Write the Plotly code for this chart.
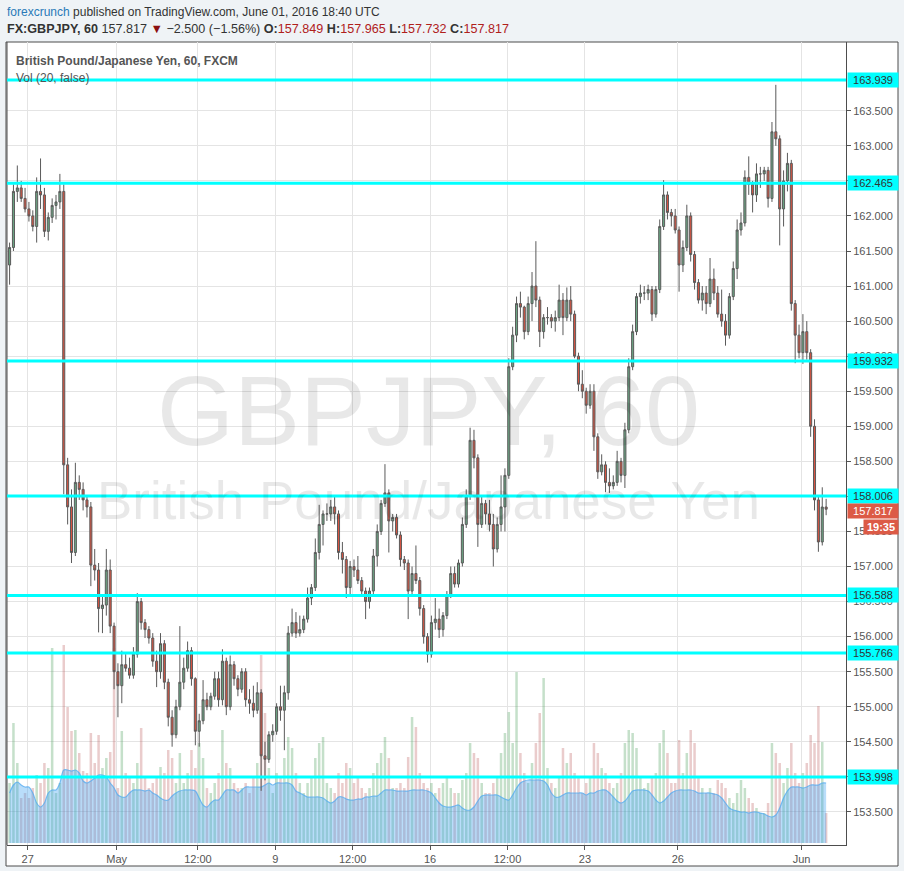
import plotly.graph_objects as go
import pandas as pd

# ---------------- data (3-hour candles) ----------------
open_ = [
    161.30, 161.55, 162.35, 162.40,
    162.25, 162.10, 162.00, 161.85, 162.35, 162.30, 161.78, 161.98,
    162.15, 162.20, 162.35, 158.45, 157.85, 157.20, 158.20, 158.10,
    157.95, 157.85, 157.02, 156.95, 156.40, 156.45, 156.95, 156.15,
    155.50, 155.30, 155.60, 155.55, 155.45, 155.75, 156.50, 156.20,
    156.10, 155.98, 155.65, 155.50, 155.90, 155.35, 154.85, 154.60,
    155.00, 155.35, 155.55, 155.80, 155.40, 154.65, 154.80, 155.10,
    155.00, 155.15, 155.40, 155.10, 155.65, 155.00, 155.60, 155.40,
    155.25, 155.50, 155.10, 155.05, 154.95, 155.20, 154.30, 154.25,
    154.60, 154.65, 155.00, 154.95, 155.20, 156.05, 156.20, 156.05,
    156.10, 156.25, 156.55, 156.70, 157.20, 157.60, 157.75, 157.75,
    157.85, 157.75, 157.20, 157.10, 156.70, 157.00, 156.95, 156.80,
    156.65, 156.50, 156.65, 157.15, 157.50, 157.90, 158.05, 157.65,
    157.70, 157.45, 157.10, 157.05, 156.65, 156.90, 156.80, 156.40,
    156.00, 155.75, 156.20, 156.25, 156.10, 156.30, 156.60, 156.90,
    156.75, 157.05, 157.60, 158.00, 158.80, 158.55, 157.60, 157.90,
    157.75, 157.60, 157.25, 157.60, 157.85, 158.30, 159.85, 160.30,
    160.75, 160.70, 160.35, 160.75, 161.00, 160.80, 160.35, 160.55,
    160.55, 160.50, 160.55, 160.80, 160.55, 160.80, 160.60, 160.00,
    159.60, 159.50, 159.30, 159.50, 158.85, 158.35, 158.45, 158.20,
    158.15, 158.20, 158.50, 158.30, 158.95, 159.85, 160.35, 160.85,
    160.90, 160.90, 160.95, 160.60, 160.95, 161.85, 162.30, 162.05,
    162.00, 161.80, 161.30, 161.55, 162.00, 161.45, 161.05, 160.80,
    160.90, 160.75, 161.10, 160.90, 160.60, 160.50, 160.30, 160.85,
    161.25, 161.80, 161.90, 162.55, 162.45, 162.30, 162.60, 162.60,
    162.65, 162.25, 163.20, 163.10, 162.10, 162.50, 162.75, 160.75,
    160.30, 160.05, 160.35, 160.05, 159.00, 157.95, 157.35, 157.849,
]
high = [
    161.62, 162.45, 162.72, 162.50,
    162.40, 162.20, 162.08, 162.55, 162.82, 162.40, 162.05, 162.25,
    162.30, 162.60, 162.45, 158.55, 158.10, 158.48, 158.30, 158.20,
    158.00, 157.92, 157.25, 157.05, 156.60, 157.25, 157.10, 156.20,
    155.62, 155.80, 155.75, 155.70, 155.85, 156.62, 156.55, 156.25,
    156.15, 156.05, 155.80, 156.05, 155.95, 155.40, 154.95, 155.10,
    156.15, 155.70, 155.93, 155.85, 155.42, 154.90, 155.38, 155.20,
    155.20, 155.50, 155.50, 155.82, 155.70, 155.73, 155.65, 155.45,
    155.55, 155.55, 155.25, 155.30, 155.35, 155.25, 154.50, 154.65,
    154.75, 155.05, 155.30, 155.30, 156.15, 156.40, 156.35, 156.30,
    156.30, 156.70, 156.75, 157.40, 157.88, 157.80, 157.90, 157.95,
    158.00, 157.80, 157.35, 157.15, 157.08, 157.10, 157.15, 156.85,
    156.70, 156.70, 157.25, 157.60, 157.95, 158.46, 158.10, 157.75,
    157.75, 157.50, 157.15, 157.10, 157.00, 157.30, 156.85, 156.45,
    156.05, 156.30, 156.55, 156.40, 156.35, 156.65, 157.00, 157.00,
    157.10, 157.70, 158.10, 158.98, 158.95, 158.60, 158.00, 157.95,
    157.95, 157.75, 157.70, 158.30, 158.40, 159.97, 160.42, 160.85,
    160.92, 160.72, 160.85, 161.20, 161.64, 160.85, 160.60, 160.70,
    160.60, 160.65, 161.02, 160.90, 160.98, 161.00, 160.65, 160.05,
    159.80, 159.55, 159.60, 159.60, 158.90, 158.60, 158.50, 158.40,
    158.30, 158.65, 158.55, 159.05, 159.97, 160.45, 160.90, 161.02,
    161.00, 161.02, 161.00, 161.00, 161.95, 162.51, 162.35, 162.10,
    162.10, 161.85, 161.65, 162.16, 162.05, 161.50, 161.10, 161.00,
    161.00, 161.40, 161.25, 161.00, 160.95, 160.60, 160.90, 161.35,
    161.95, 162.05, 162.65, 162.85, 162.50, 162.75, 162.70, 162.70,
    162.70, 163.34, 163.87, 163.15, 162.65, 162.90, 162.80, 160.80,
    160.45, 160.60, 160.50, 160.10, 159.10, 158.00, 158.13, 157.965,
]
low = [
    161.02, 161.50, 162.20, 162.20,
    162.05, 161.92, 161.78, 161.62, 162.10, 161.70, 161.65, 161.90,
    161.95, 162.10, 158.03, 157.60, 157.05, 157.15, 157.95, 157.80,
    157.70, 156.72, 156.80, 156.06, 156.05, 156.30, 156.05, 155.25,
    154.85, 155.05, 155.50, 155.40, 155.40, 155.70, 156.10, 155.98,
    155.90, 155.57, 155.28, 155.40, 155.25, 154.72, 154.43, 154.55,
    154.95, 155.25, 155.50, 155.30, 154.45, 154.43, 154.75, 154.95,
    154.95, 155.10, 155.00, 155.02, 154.88, 154.95, 155.30, 155.15,
    155.20, 155.00, 154.90, 154.85, 154.90, 153.80, 153.95, 154.20,
    154.50, 154.60, 154.80, 154.38, 155.10, 156.00, 155.98, 156.00,
    156.05, 156.20, 156.45, 156.65, 157.10, 157.30, 157.65, 157.65,
    157.60, 157.10, 156.90, 156.55, 156.60, 156.85, 156.75, 156.58,
    156.25, 156.40, 156.60, 157.00, 157.45, 157.85, 157.20, 157.50,
    157.40, 157.00, 156.95, 156.25, 156.60, 156.75, 156.30, 155.90,
    155.63, 155.70, 156.10, 155.98, 156.00, 156.25, 156.55, 156.70,
    156.70, 157.00, 157.55, 157.95, 158.40, 157.28, 157.55, 157.60,
    157.50, 157.00, 157.20, 157.50, 157.50, 158.25, 159.80, 160.20,
    160.55, 160.24, 160.30, 160.50, 160.70, 160.13, 160.25, 160.45,
    160.40, 160.35, 160.50, 160.30, 160.50, 160.50, 159.97, 159.50,
    159.40, 159.18, 159.25, 158.65, 158.25, 158.30, 158.06, 158.05,
    158.10, 158.15, 158.20, 158.12, 158.90, 159.80, 160.30, 160.75,
    160.80, 160.80, 160.50, 160.55, 160.90, 161.80, 161.95, 161.85,
    161.75, 160.92, 161.20, 161.50, 161.35, 160.95, 160.75, 160.65,
    160.60, 160.70, 160.80, 160.55, 160.42, 160.15, 160.25, 160.80,
    161.10, 161.72, 161.85, 162.30, 162.05, 162.20, 162.40, 162.50,
    162.12, 162.20, 163.00, 161.58, 161.85, 162.35, 160.65, 159.90,
    159.97, 159.89, 159.95, 158.85, 157.80, 157.21, 157.30, 157.732,
]
close = [
    161.55, 162.35, 162.40, 162.25,
    162.10, 162.00, 161.85, 162.35, 162.30, 161.78, 161.98, 162.15,
    162.20, 162.35, 158.45, 157.85, 157.20, 158.20, 158.10, 157.95,
    157.85, 157.02, 156.95, 156.40, 156.45, 156.95, 156.15, 155.50,
    155.30, 155.60, 155.55, 155.45, 155.75, 156.50, 156.20, 156.10,
    155.98, 155.65, 155.50, 155.90, 155.35, 154.85, 154.60, 155.00,
    155.35, 155.55, 155.80, 155.40, 154.65, 154.80, 155.10, 155.00,
    155.15, 155.40, 155.10, 155.65, 155.00, 155.60, 155.40, 155.25,
    155.50, 155.10, 155.05, 154.95, 155.20, 154.30, 154.25, 154.60,
    154.65, 155.00, 154.95, 155.20, 156.05, 156.20, 156.05, 156.10,
    156.25, 156.55, 156.70, 157.20, 157.60, 157.75, 157.75, 157.85,
    157.75, 157.20, 157.10, 156.70, 157.00, 156.95, 156.80, 156.65,
    156.50, 156.65, 157.15, 157.50, 157.90, 158.05, 157.65, 157.70,
    157.45, 157.10, 157.05, 156.65, 156.90, 156.80, 156.40, 156.00,
    155.75, 156.20, 156.25, 156.10, 156.30, 156.60, 156.90, 156.75,
    157.05, 157.60, 158.00, 158.80, 158.55, 157.60, 157.90, 157.75,
    157.60, 157.25, 157.60, 157.85, 158.30, 159.85, 160.30, 160.75,
    160.70, 160.35, 160.75, 161.00, 160.80, 160.35, 160.55, 160.55,
    160.50, 160.55, 160.80, 160.55, 160.80, 160.60, 160.00, 159.60,
    159.50, 159.30, 159.50, 158.85, 158.35, 158.45, 158.20, 158.15,
    158.20, 158.50, 158.30, 158.95, 159.85, 160.35, 160.85, 160.90,
    160.90, 160.95, 160.60, 160.95, 161.85, 162.30, 162.05, 162.00,
    161.80, 161.30, 161.55, 162.00, 161.45, 161.05, 160.80, 160.90,
    160.75, 161.10, 160.90, 160.60, 160.50, 160.30, 160.85, 161.25,
    161.80, 161.90, 162.55, 162.45, 162.30, 162.60, 162.60, 162.65,
    162.25, 163.20, 163.10, 162.10, 162.50, 162.75, 160.75, 160.30,
    160.05, 160.35, 160.05, 159.00, 157.95, 157.35, 157.849, 157.817,
]
volume = [
    60, 120, 80, 45,
    50, 45, 55, 68, 60, 80, 75, 195,
    50, 60, 198, 136, 112, 113, 90, 72,
    70, 110, 80, 108, 75, 85, 91, 195,
    55, 112, 70, 65, 60, 80, 115, 65,
    55, 60, 65, 76, 70, 93, 85, 60,
    90, 60, 70, 93, 75, 100, 85, 55,
    50, 60, 70, 113, 80, 75, 60, 55,
    55, 60, 50, 65, 80, 188, 130, 75,
    50, 70, 65, 85, 106, 95, 70, 60,
    50, 60, 65, 85, 100, 106, 60, 55,
    50, 70, 60, 80, 75, 60, 65, 55,
    50, 55, 70, 80, 90, 106, 85, 55,
    55, 60, 55, 86, 126, 116, 70, 60,
    55, 60, 50, 55, 60, 65, 55, 50,
    50, 63, 70, 100, 90, 85, 60, 50,
    50, 60, 65, 90, 110, 131, 100, 171,
    90, 70, 60, 80, 100, 130, 165, 75,
    60, 55, 65, 95, 80, 90, 70, 65,
    50, 60, 65, 100, 90, 75, 70, 60,
    55, 60, 70, 100, 113, 110, 95, 65,
    55, 60, 65, 70, 100, 113, 90, 60,
    60, 103, 70, 90, 113, 100, 65, 55,
    50, 55, 50, 63, 60, 55, 45, 40,
    50, 63, 55, 45, 40, 35, 30, 30,
    40, 100, 90, 80, 60, 75, 100, 70,
    60, 70, 80, 108, 100, 137, 101, 30,
]
vol_ma = [
    50, 58, 61, 58,
    56, 56, 50, 40, 36, 40, 50, 53,
    53, 60, 73, 73, 72, 73, 70, 62,
    60, 62, 65, 68, 68, 66, 60, 55,
    48, 46, 46, 50, 53, 53, 53, 52,
    53, 50, 48, 45, 43, 43, 47, 50,
    52, 53, 53, 53, 52, 45, 38, 36,
    40, 43, 43, 48, 53, 53, 53, 50,
    53, 56, 56, 56, 56, 56, 58, 60,
    58, 60, 60, 60, 60, 58, 52, 50,
    48, 46, 46, 46, 46, 45, 42, 40,
    42, 46, 46, 44, 43, 43, 44, 44,
    46, 46, 47, 47, 50, 53, 53, 53,
    52, 52, 52, 52, 53, 53, 53, 53,
    52, 50, 45, 40, 37, 36, 36, 37,
    38, 35, 33, 33, 36, 42, 47, 48,
    48, 48, 48, 46, 44, 43, 48, 55,
    60, 62, 63, 63, 63, 63, 62, 58,
    50, 46, 46, 48, 50, 50, 50, 50,
    50, 48, 50, 50, 52, 53, 53, 50,
    46, 42, 40, 42, 47, 52, 53, 53,
    53, 52, 48, 43, 40, 42, 46, 50,
    52, 53, 53, 53, 53, 52, 50, 50,
    50, 50, 49, 48, 45, 40, 35, 33,
    32, 31, 31, 30, 31, 31, 30, 29,
    27, 26, 28, 35, 45, 52, 56, 56,
    56, 55, 56, 58, 58, 58, 60, 60,
]

levels = [163.939, 162.465, 159.932, 158.006, 156.588, 155.766, 153.998]
tick_dates = ["2016-04-27 00:00", "2016-05-01 21:00", "2016-05-04 12:00", "2016-05-09 00:00",
              "2016-05-11 12:00", "2016-05-16 00:00", "2016-05-18 12:00", "2016-05-23 00:00",
              "2016-05-26 00:00", "2016-06-01 00:00"]
tick_labels = ["27", "May", "12:00", "9", "12:00", "16", "12:00", "23", "26", "Jun"]
price_ticks = [153.5, 154.0, 154.5, 155.0, 155.5, 156.0, 156.5, 157.0, 157.5, 158.0, 158.5,
               159.0, 159.5, 160.0, 160.5, 161.0, 161.5, 162.0, 162.5, 163.0, 163.5]
last_price = 157.817

# ---------------- time axis (3-hour bars, FX sessions from Sunday 21:00) ----------------
starts = [pd.Timestamp("2016-04-26 09:00") + pd.Timedelta(hours=3 * i) for i in range(4)]
for d in pd.bdate_range("2016-04-27", "2016-06-01"):
    s0 = d - pd.Timedelta(hours=3)
    starts += [s0 + pd.Timedelta(hours=3 * i) for i in range(8)]
n = len(close)
for arr in (open_, high, low, volume, vol_ma):
    assert len(arr) == n, (len(arr), n)
assert len(starts) == n, (len(starts), n)
xt = [s + pd.Timedelta(hours=1) for s in starts]
weekend_starts = ["2016-04-29 21:00", "2016-05-06 21:00", "2016-05-13 21:00",
                  "2016-05-20 21:00", "2016-05-27 21:00"]

UP, DOWN = "#6ba583", "#d75442"
vol_colors = ["rgba(80,160,95,0.33)" if c >= o else "rgba(185,85,85,0.30)" for o, c in zip(open_, close)]

# plot area in pixels: x 7..846, y 42..845
L, R, T, B = 7, 58, 42, 26
W, H = 904, 871
PW, PH = W - L - R, H - T - B


def px(xp):
    return (xp - L) / PW


def py(yp):
    return (H - B - yp) / PH


FONT = "Liberation Sans, Arial, sans-serif"

fig = go.Figure()
fig.add_trace(go.Bar(x=xt, y=volume, marker=dict(color=vol_colors, line=dict(width=0)),
                     yaxis="y", showlegend=False, hoverinfo="skip"))
fig.add_trace(go.Scatter(x=xt, y=vol_ma, mode="lines",
                         line=dict(color="rgba(80,170,240,0.75)", width=1.2, shape="spline"),
                         fill="tozeroy", fillcolor="rgba(60,160,240,0.36)", yaxis="y",
                         showlegend=False, hoverinfo="skip"))
fig.add_trace(go.Candlestick(
    x=xt, open=open_, high=high, low=low, close=close, yaxis="y2",
    increasing=dict(line=dict(color="#5a5a5a", width=1), fillcolor=UP),
    decreasing=dict(line=dict(color="#5a5a5a", width=1), fillcolor=DOWN),
    whiskerwidth=0, showlegend=False,
))

shapes = [
    dict(type="rect", xref="paper", yref="paper", x0=px(6), x1=px(898), y0=py(866), y1=py(42),
         fillcolor="white", line=dict(color="#4d4d4d", width=1), layer="below"),
    dict(type="line", xref="paper", yref="paper", x0=0, x1=0, y0=0, y1=1,
         line=dict(color="#4d4d4d", width=1)),
]
for lv in levels:
    shapes.append(dict(type="line", xref="paper", yref="y2", x0=0, x1=1, y0=lv, y1=lv,
                       line=dict(color="#00ffff", width=3), layer="above"))

ann = []
ann.append(dict(xref="paper", yref="paper", x=px(5), y=py(12), xanchor="left", yanchor="middle",
                showarrow=False, font=dict(family=FONT, size=12, color="#333"),
                text="<span style='color:#2a7ab8'>forexcrunch</span> published on TradingView.com, June 01, 2016 18:40 UTC"))
red = "#b0201b"
ann.append(dict(xref="paper", yref="paper", x=px(5), y=py(29), xanchor="left", yanchor="middle",
                showarrow=False, font=dict(family=FONT, size=12.6, color="#333"),
                text=("<b>FX:GBPJPY, 60</b> 157.817 <span style='color:#8b1010'>▼</span> −2.500 (−1.56%) "
                      f"<b>O:</b><span style='color:{red}'>157.849</span> <b>H:</b><span style='color:{red}'>157.965</span> "
                      f"<b>L:</b><span style='color:{red}'>157.732</span> <b>C:</b><span style='color:{red}'>157.817</span>")))
ann.append(dict(xref="paper", yref="paper", x=px(14), y=py(61), xanchor="left", yanchor="middle",
                showarrow=False, font=dict(family=FONT, size=12, color="#555"),
                text="<b>British Pound/Japanese Yen, 60, FXCM</b>"))
ann.append(dict(xref="paper", yref="paper", x=px(14), y=py(78), xanchor="left", yanchor="middle",
                showarrow=False, font=dict(family=FONT, size=12, color="#555"),
                text="Vol (20, false)"))
# watermark
ann.append(dict(xref="paper", yref="paper", x=px(428), y=py(410), xanchor="center", yanchor="middle",
                showarrow=False, font=dict(family=FONT, size=99, color="rgba(0,0,0,0.09)"),
                text="GBPJPY, 60"))
ann.append(dict(xref="paper", yref="paper", x=px(428), y=py(500), xanchor="center", yanchor="middle",
                showarrow=False, font=dict(family=FONT, size=53, color="rgba(0,0,0,0.09)"),
                text="British Pound/Japanese Yen"))
# axis labels for the horizontal levels
for lv in levels:
    ann.append(dict(xref="paper", yref="y2", x=px(847), y=lv, xanchor="left", yanchor="middle",
                    showarrow=False, text=f"{lv:.3f}", bgcolor="#00ffff", width=48, height=12, borderpad=1,
                    font=dict(family=FONT, size=11, color="#333")))
ann.append(dict(xref="paper", yref="y2", x=px(847), y=last_price, yshift=-2, xanchor="left", yanchor="middle",
                showarrow=False, text=f"{last_price:.3f}", bgcolor="#dc5a46", width=48, height=12, borderpad=1,
                font=dict(family=FONT, size=11, color="white")))
ann.append(dict(xref="paper", yref="y2", x=px(863), y=last_price, yshift=-18, xanchor="left", yanchor="middle",
                showarrow=False, text="<b>19:35</b>", bgcolor="#dc5a46", width=32, height=12, borderpad=1,
                font=dict(family=FONT, size=11, color="white")))

fig.update_layout(
    width=W, height=H, margin=dict(l=L, r=R, t=T, b=B, pad=0),
    paper_bgcolor="#eff3f6", plot_bgcolor="white",
    shapes=shapes, annotations=ann, showlegend=False, bargap=0.35, boxgap=0.25,
    xaxis=dict(type="date", range=["2016-04-26 08:00", "2016-06-02 10:24"],
               rangebreaks=[dict(values=weekend_starts, dvalue=48 * 3600 * 1000)],
               tickmode="array", tickvals=tick_dates, ticktext=tick_labels,
               showgrid=True, gridcolor="#e4e4e4", gridwidth=1, zeroline=False,
               ticks="outside", ticklen=4, tickcolor="#555", showline=True, linecolor="#4d4d4d",
               tickfont=dict(family=FONT, size=11, color="#555"),
               rangeslider=dict(visible=False), fixedrange=True),
    yaxis=dict(range=[-2, PH - 2], visible=False, showgrid=False, fixedrange=True),
    yaxis2=dict(overlaying="y", side="right", range=[153.028, 164.481],
                tickmode="array", tickvals=price_ticks, ticktext=[f"{v:.3f}" for v in price_ticks],
                showgrid=True, gridcolor="#e4e4e4", gridwidth=1, zeroline=False,
                ticks="outside", ticklen=4, tickcolor="#555", showline=True, linecolor="#4d4d4d",
                tickfont=dict(family=FONT, size=11, color="#555"), fixedrange=True),
)

fig.write_html("out.html", config={"displayModeBar": False, "staticPlot": True},
               post_script="document.body.style.margin='0';")
# make sure the page has no default body margin
with open("out.html", "r", encoding="utf-8") as f:
    page = f.read()
page = page.replace("<head>", "<head><style>html,body{margin:0;padding:0;overflow:hidden;}</style>", 1)
with open("out.html", "w", encoding="utf-8") as f:
    f.write(page)
